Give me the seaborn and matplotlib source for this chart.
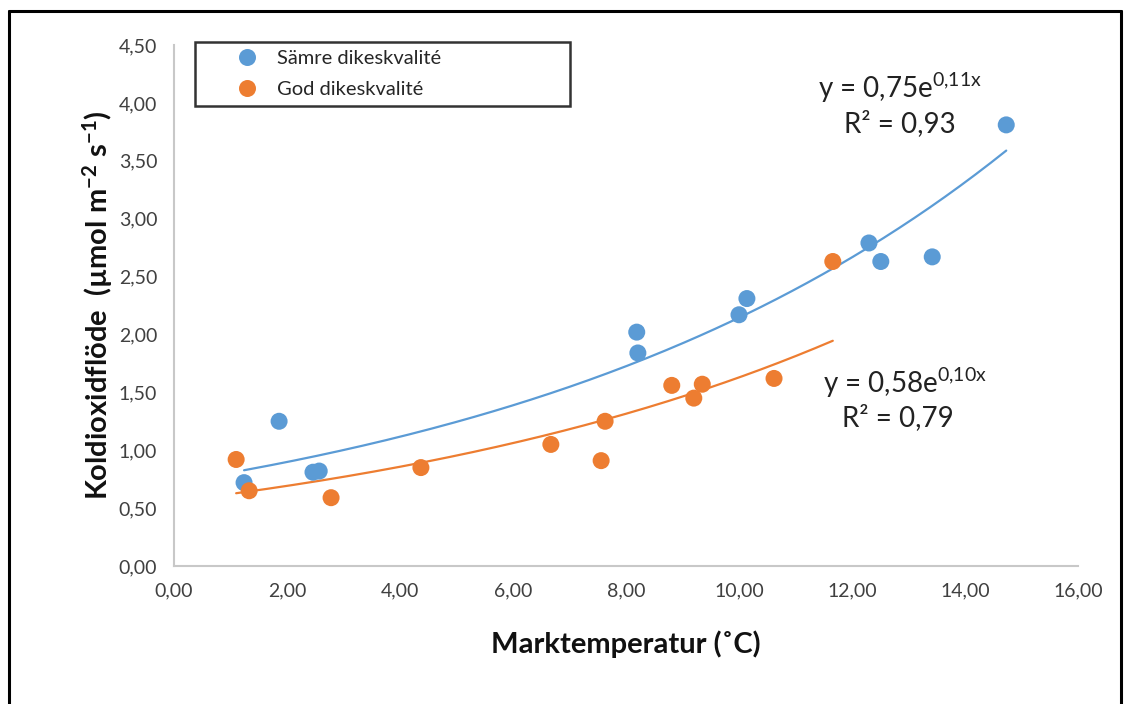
import numpy as np
import pandas as pd
import matplotlib
matplotlib.use("Agg")
import matplotlib.pyplot as plt
from matplotlib.ticker import FuncFormatter, MultipleLocator
import seaborn as sns

# ---- data ----
samre_x = [1.24, 1.86, 2.46, 2.57, 8.19, 8.21, 10.00, 10.14, 12.30, 12.51, 13.42, 14.73]
samre_y = [0.72, 1.25, 0.81, 0.82, 2.02, 1.84, 2.17, 2.31, 2.79, 2.63, 2.67, 3.81]
god_x = [1.10, 1.33, 2.78, 4.37, 6.67, 7.56, 7.63, 8.81, 9.20, 9.35, 10.62, 11.66]
god_y = [0.92, 0.65, 0.59, 0.85, 1.05, 0.91, 1.25, 1.56, 1.45, 1.57, 1.62, 2.63]
series_names = ["Sämre dikeskvalité", "God dikeskvalité"]
eq_texts = [r"y = 0,75e$^{\mathrm{0{,}11x}}$", r"y = 0,58e$^{\mathrm{0{,}10x}}$"]
r2_texts = ["R² = 0,93", "R² = 0,79"]
x_label = "Marktemperatur (˚C)"
y_label = r"Koldioxidflöde  (µmol m$^{\mathbf{-2}}$ s$^{\mathbf{-1}}$)"

colors = ["#5B9BD5", "#ED7D31"]

df = pd.DataFrame({
    "x": samre_x + god_x,
    "y": samre_y + god_y,
    "serie": [series_names[0]] * len(samre_x) + [series_names[1]] * len(god_x),
})

sns.set_style("white")
plt.rcParams["font.family"] = ["Lato", "DejaVu Sans"]
plt.rcParams["mathtext.fontset"] = "custom"
plt.rcParams["mathtext.rm"] = "Lato"
plt.rcParams["mathtext.bf"] = "Lato:bold"
plt.rcParams["mathtext.it"] = "Lato:italic"

fig = plt.figure(figsize=(11.29, 7.04), dpi=100)
ax = fig.add_axes([174 / 1129, 1 - 566 / 704, (1078 - 174) / 1129, (566 - 45) / 704])

# trend lines (exponential fit through data)
for xs, ys, c in [(samre_x, samre_y, colors[0]), (god_x, god_y, colors[1])]:
    xs = np.array(xs); ys = np.array(ys)
    b, lna = np.polyfit(xs, np.log(ys), 1)
    xx = np.linspace(xs.min(), xs.max(), 200)
    ax.plot(xx, np.exp(lna) * np.exp(b * xx), color=c, lw=1.6, zorder=2)

sns.scatterplot(data=df, x="x", y="y", hue="serie", palette=colors,
                s=150, edgecolor="none", ax=ax, zorder=3, legend=True)

ax.set_xlim(0, 16)
ax.set_ylim(0, 4.5)
ax.xaxis.set_major_locator(MultipleLocator(2))
ax.yaxis.set_major_locator(MultipleLocator(0.5))
fmt = FuncFormatter(lambda v, p: f"{v:.2f}".replace(".", ","))
ax.xaxis.set_major_formatter(fmt)
ax.yaxis.set_major_formatter(fmt)
ax.tick_params(axis="both", labelsize=14, colors="#404040", length=0, pad=12)
for s in ["top", "right"]:
    ax.spines[s].set_visible(False)
for s in ["left", "bottom"]:
    ax.spines[s].set_color("#c8c8c8")
    ax.spines[s].set_linewidth(1.5)

ax.set_xlabel(x_label, fontsize=21, fontweight="bold", labelpad=22, color="#111111")
ax.set_ylabel(y_label, fontsize=21, fontweight="bold", labelpad=3, color="#111111")

# equations
for (txt, px, py) in [(eq_texts[0], 900, 88), (r2_texts[0], 900, 124),
                      (eq_texts[1], 905, 383), (r2_texts[1], 898, 418)]:
    ax.text(px / 1129, 1 - py / 704, txt, transform=fig.transFigure, fontsize=20,
            ha="center", va="center", color="#222222")

# legend
handles, labels = ax.get_legend_handles_labels()
leg = ax.legend(handles, labels, loc="upper left", mode="expand",
                bbox_to_anchor=(195 / 1129, 1 - 107 / 704, 375 / 1129, 65 / 704),
                bbox_transform=fig.transFigure, borderaxespad=0, frameon=True,
                fancybox=False, edgecolor="black", fontsize=14.5, markerscale=1.0,
                handletextpad=-0.75, handlelength=4.4, borderpad=0.4, labelspacing=0.7)
leg.get_frame().set_linewidth(1.8)

# outer border
for (x0, y0, x1, y1) in [(9, 11, 1121, 11), (9, 11, 9, 704), (1121, 11, 1121, 704)]:
    fig.add_artist(plt.Line2D([x0 / 1129, x1 / 1129], [1 - y0 / 704, 1 - y1 / 704],
                              transform=fig.transFigure, color="black", lw=2.2))

fig.savefig("out.png", dpi=100)
